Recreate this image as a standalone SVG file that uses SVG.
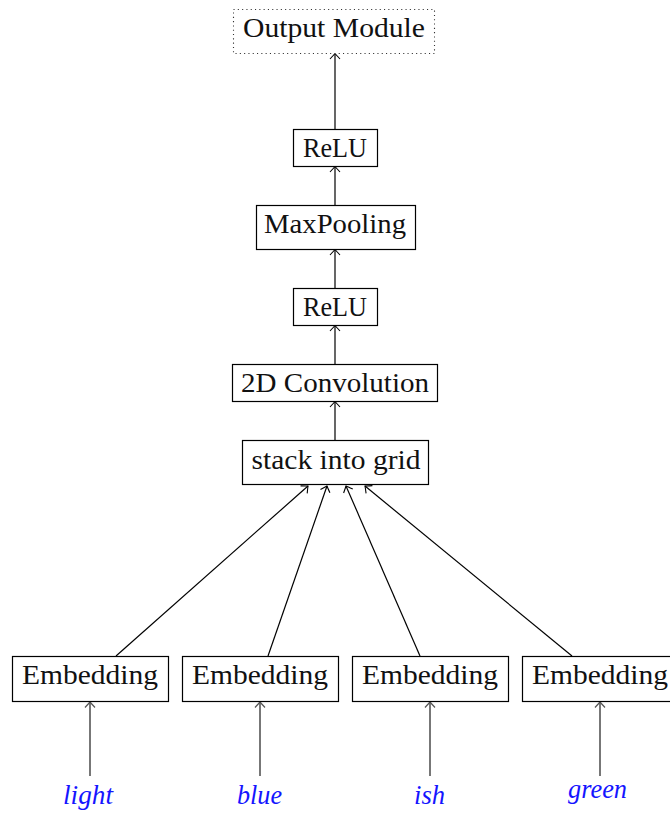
<svg xmlns="http://www.w3.org/2000/svg" width="670" height="815" viewBox="0 0 670 815">
  <style>
    .box { fill: #ffffff; stroke: #000000; stroke-width: 1.2; }
    .dotted { fill: #ffffff; stroke: #333333; stroke-width: 1.1; stroke-dasharray: 1.1 3.2; }
    .lbl { font-family: "Liberation Serif", "Times New Roman", serif; font-size: 28px; fill: #111111; text-anchor: middle; }
    .word { font-family: "Liberation Serif", "Times New Roman", serif; font-size: 28px; font-style: italic; fill: #1515ff; text-anchor: middle; }
    .edge { fill: none; stroke: #000000; stroke-width: 1.2; marker-end: url(#tip); }
    .edge-in { fill: none; stroke: #555555; stroke-width: 1.6; marker-end: url(#tipGray); }
  </style>
  <defs>
    <marker id="tip" markerUnits="userSpaceOnUse" viewBox="-7 -7 9 14" refX="0" refY="0" markerWidth="9" markerHeight="14" orient="auto">
      <path d="M -5.5,-5 Q -1.2,-1 0,0 Q -1.2,1 -5.5,5" fill="none" stroke="#000000" stroke-width="1.1"/>
    </marker>
    <marker id="tipGray" markerUnits="userSpaceOnUse" viewBox="-7 -7 9 14" refX="0" refY="0" markerWidth="9" markerHeight="14" orient="auto">
      <path d="M -5.5,-5 Q -1.2,-1 0,0 Q -1.2,1 -5.5,5" fill="none" stroke="#555555" stroke-width="1.2"/>
    </marker>
  </defs>

  <!-- connectors -->
  <g id="connectors">
    <line class="edge" x1="335" y1="129" x2="335" y2="53.5"/>
    <line class="edge" x1="335" y1="205" x2="335" y2="166.5"/>
    <line class="edge" x1="335" y1="288" x2="335" y2="249.5"/>
    <line class="edge" x1="335" y1="364" x2="335" y2="325.5"/>
    <line class="edge" x1="335" y1="440" x2="335" y2="401.5"/>
    <line class="edge" x1="116" y1="656" x2="308" y2="486"/>
    <line class="edge" x1="268" y1="656" x2="327" y2="486"/>
    <line class="edge" x1="420" y1="656" x2="346" y2="486"/>
    <line class="edge" x1="572" y1="656" x2="365" y2="486"/>
    <line class="edge-in" x1="90" y1="776" x2="90" y2="702"/>
    <line class="edge-in" x1="260" y1="776" x2="260" y2="702"/>
    <line class="edge-in" x1="430" y1="776" x2="430" y2="702"/>
    <line class="edge-in" x1="600" y1="776" x2="600" y2="702"/>
  </g>

  <!-- network stages -->
  <g id="output-module">
    <rect class="dotted" x="233.5" y="9.5" width="201" height="44"/>
    <text class="lbl" x="334" y="37" textLength="182" lengthAdjust="spacingAndGlyphs">Output Module</text>
  </g>
  <g id="relu-top">
    <rect class="box" x="293.5" y="129.5" width="84" height="37"/>
    <text class="lbl" x="335" y="157" textLength="64" lengthAdjust="spacingAndGlyphs">ReLU</text>
  </g>
  <g id="maxpooling">
    <rect class="box" x="256.5" y="205.5" width="159" height="44"/>
    <text class="lbl" x="335" y="233" textLength="142" lengthAdjust="spacingAndGlyphs">MaxPooling</text>
  </g>
  <g id="relu-bottom">
    <rect class="box" x="293.5" y="288.5" width="84" height="37"/>
    <text class="lbl" x="335" y="316" textLength="64" lengthAdjust="spacingAndGlyphs">ReLU</text>
  </g>
  <g id="conv2d">
    <rect class="box" x="232.5" y="364.5" width="205" height="37"/>
    <text class="lbl" x="335" y="392" textLength="188" lengthAdjust="spacingAndGlyphs">2D Convolution</text>
  </g>
  <g id="stack-grid">
    <rect class="box" x="242.5" y="440.5" width="186" height="44"/>
    <text class="lbl" x="336" y="469" textLength="169" lengthAdjust="spacingAndGlyphs">stack into grid</text>
  </g>

  <!-- embeddings -->
  <g id="embedding-1">
    <rect class="box" x="12.5" y="656.5" width="156" height="45"/>
    <text class="lbl" x="90" y="684" textLength="136" lengthAdjust="spacingAndGlyphs">Embedding</text>
  </g>
  <g id="embedding-2">
    <rect class="box" x="182.5" y="656.5" width="156" height="45"/>
    <text class="lbl" x="260" y="684" textLength="136" lengthAdjust="spacingAndGlyphs">Embedding</text>
  </g>
  <g id="embedding-3">
    <rect class="box" x="352.5" y="656.5" width="156" height="45"/>
    <text class="lbl" x="430" y="684" textLength="136" lengthAdjust="spacingAndGlyphs">Embedding</text>
  </g>
  <g id="embedding-4">
    <rect class="box" x="522.5" y="656.5" width="156" height="45"/>
    <text class="lbl" x="600" y="684" textLength="136" lengthAdjust="spacingAndGlyphs">Embedding</text>
  </g>

  <!-- input tokens -->
  <g id="token-light">
    <text class="word" x="88" y="804" textLength="50" lengthAdjust="spacingAndGlyphs">light</text>
  </g>
  <g id="token-blue">
    <text class="word" x="259.5" y="804" textLength="45" lengthAdjust="spacingAndGlyphs">blue</text>
  </g>
  <g id="token-ish">
    <text class="word" x="429.5" y="804" textLength="31" lengthAdjust="spacingAndGlyphs">ish</text>
  </g>
  <g id="token-green">
    <text class="word" x="597.5" y="798" textLength="59" lengthAdjust="spacingAndGlyphs">green</text>
  </g>
</svg>
